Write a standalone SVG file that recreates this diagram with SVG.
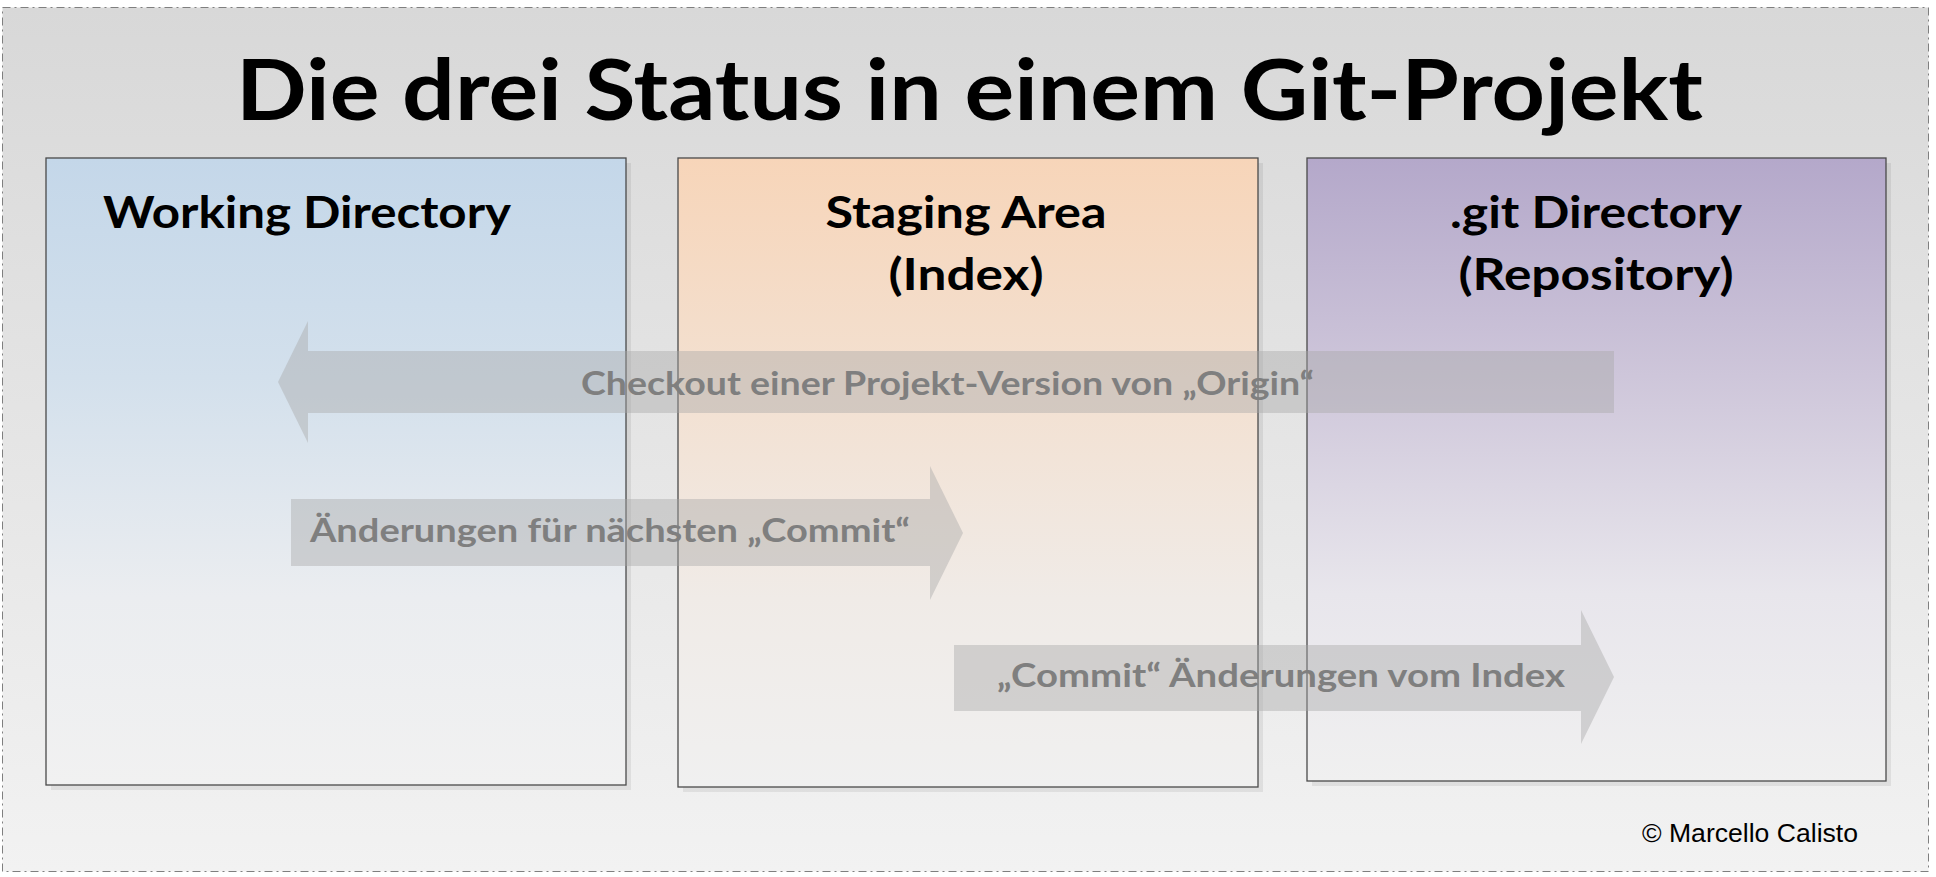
<svg xmlns="http://www.w3.org/2000/svg" width="1936" height="877" viewBox="0 0 1936 877">
  <defs>
    <linearGradient id="bgGrad" x1="0" y1="0" x2="0" y2="1">
      <stop offset="0" stop-color="#d8d8d8"/>
      <stop offset="0.5" stop-color="#e5e5e5"/>
      <stop offset="1" stop-color="#f2f2f2"/>
    </linearGradient>
    <linearGradient id="blueGrad" x1="0" y1="0" x2="0" y2="1">
      <stop offset="0" stop-color="#c4d7e9"/>
      <stop offset="0.35" stop-color="#d3e0ec"/>
      <stop offset="0.7" stop-color="#ebedf0"/>
      <stop offset="1" stop-color="#f1f1f1"/>
    </linearGradient>
    <linearGradient id="orangeGrad" x1="0" y1="0" x2="0" y2="1">
      <stop offset="0" stop-color="#f7d5b9"/>
      <stop offset="0.35" stop-color="#f3e0d0"/>
      <stop offset="0.7" stop-color="#f0ebe7"/>
      <stop offset="1" stop-color="#f0f0f0"/>
    </linearGradient>
    <linearGradient id="purpleGrad" x1="0" y1="0" x2="0" y2="1">
      <stop offset="0" stop-color="#b4a8ca"/>
      <stop offset="0.35" stop-color="#cec6da"/>
      <stop offset="0.7" stop-color="#e8e6ec"/>
      <stop offset="1" stop-color="#f0f0f0"/>
    </linearGradient>
    <style>
      .frame { fill: url(#bgGrad); stroke: #7f7f7f; stroke-width: 1; stroke-dasharray: 8 4 2 4; }
      .shadow { fill: #000000; opacity: 0.07; }
      .box { stroke: #4a4a4a; stroke-width: 1.3; }
      .title { font-family: Lato, "Open Sans", "DejaVu Sans", sans-serif; font-weight: bold; font-size: 85px; fill: #000000; }
      .head { font-family: Lato, "Open Sans", "DejaVu Sans", sans-serif; font-weight: bold; font-size: 43px; fill: #000000; }
      .arrow { fill: #a8a8a8; opacity: 0.42; }
      .alabel { font-family: Lato, "Open Sans", "DejaVu Sans", sans-serif; font-weight: bold; font-size: 33px; fill: #7f7f7f; }
      .copy { font-family: "Liberation Sans", Arial, sans-serif; font-size: 26.5px; fill: #000000; }
    </style>
  </defs>

  <g id="background">
    <rect class="frame" x="2.5" y="7.5" width="1926" height="864"/>
  </g>

  <g id="title">
    <text class="title" x="236" y="120" textLength="1467" lengthAdjust="spacingAndGlyphs">Die drei Status in einem Git-Projekt</text>
  </g>

  <g id="working-directory">
    <rect class="shadow" x="51" y="163" width="580" height="627"/>
    <rect class="box" x="46" y="158" width="580" height="627" fill="url(#blueGrad)"/>
    <text class="head" x="103" y="228" textLength="408" lengthAdjust="spacingAndGlyphs">Working Directory</text>
  </g>

  <g id="staging-area">
    <rect class="shadow" x="683" y="163" width="580" height="629"/>
    <rect class="box" x="678" y="158" width="580" height="629" fill="url(#orangeGrad)"/>
    <text class="head" x="966" y="228" text-anchor="middle" textLength="281" lengthAdjust="spacingAndGlyphs">Staging Area</text>
    <text class="head" x="966" y="290" text-anchor="middle" textLength="155" lengthAdjust="spacingAndGlyphs">(Index)</text>
  </g>

  <g id="git-directory">
    <rect class="shadow" x="1312" y="163" width="579" height="623"/>
    <rect class="box" x="1307" y="158" width="579" height="623" fill="url(#purpleGrad)"/>
    <text class="head" x="1596" y="228" text-anchor="middle" textLength="292" lengthAdjust="spacingAndGlyphs">.git Directory</text>
    <text class="head" x="1596" y="290" text-anchor="middle" textLength="275" lengthAdjust="spacingAndGlyphs">(Repository)</text>
  </g>

  <g id="connectors">
    <g id="arrow-checkout">
      <polygon class="arrow" points="278,382 308,321 308,351 1614,351 1614,413 308,413 308,443"/>
      <text class="alabel" x="581" y="395" textLength="733" lengthAdjust="spacingAndGlyphs">Checkout einer Projekt-Version von „Origin“</text>
    </g>
    <g id="arrow-stage">
      <polygon class="arrow" points="291,499 930,499 930,466 963,533 930,600 930,566 291,566"/>
      <text class="alabel" x="310" y="542" textLength="600" lengthAdjust="spacingAndGlyphs">Änderungen für nächsten „Commit“</text>
    </g>
    <g id="arrow-commit">
      <polygon class="arrow" points="954,645 1581,645 1581,610 1614,677 1581,744 1581,711 954,711"/>
      <text class="alabel" x="997" y="687" textLength="568" lengthAdjust="spacingAndGlyphs">„Commit“ Änderungen vom Index</text>
    </g>
  </g>

  <g id="copyright">
    <text class="copy" x="1642" y="842" textLength="216" lengthAdjust="spacingAndGlyphs">© Marcello Calisto</text>
  </g>
</svg>
